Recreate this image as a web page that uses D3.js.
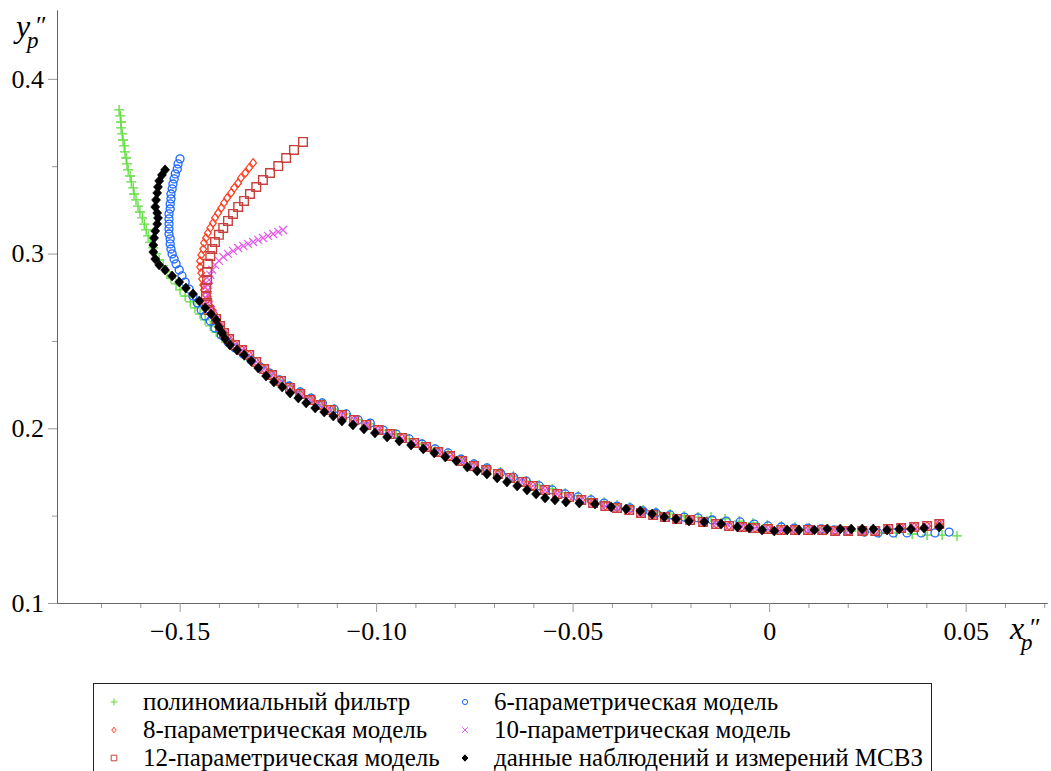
<!DOCTYPE html>
<html><head><meta charset="utf-8">
<script src="https://cdn.jsdelivr.net/npm/d3@7"></script>
<style>body{margin:0;background:#fff} svg{display:block}</style>
</head><body>
<svg id="c" width="1051" height="771"></svg>
<script>
// ---------- data (x″p, y″p) ----------
const polyFilter = [[-0.1654,0.3822],[-0.1651,0.3788],[-0.1649,0.3753],[-0.1649,0.3719],[-0.1646,0.3685],[-0.1644,0.3650],[-0.1641,0.3616],[-0.1639,0.3582],[-0.1636,0.3547],[-0.1634,0.3513],[-0.1631,0.3479],[-0.1626,0.3444],[-0.1623,0.3410],[-0.1618,0.3376],[-0.1616,0.3341],[-0.1611,0.3307],[-0.1606,0.3272],[-0.1601,0.3238],[-0.1595,0.3204],[-0.1590,0.3169],[-0.1585,0.3135],[-0.1580,0.3101],[-0.1575,0.3066],[-0.1567,0.3032],[-0.1560,0.2998],[-0.1552,0.2963],[-0.1542,0.2929],[-0.1532,0.2895],[-0.1522,0.2860],[-0.1509,0.2826],[-0.1499,0.2792],[-0.1486,0.2757],[-0.1473,0.2723],[-0.1461,0.2689],[-0.1448,0.2654],[-0.1435,0.2620],[-0.1422,0.2586],[-0.1407,0.2551],[-0.1392,0.2517],[-0.1374,0.2483],[-0.1356,0.2448],[-0.1336,0.2414],[-0.1316,0.2380],[-0.1293,0.2345],[-0.1270,0.2311],[-0.1244,0.2277],[-0.1219,0.2242],[-0.1193,0.2208],[-0.1165,0.2173],[-0.1137,0.2145],[-0.1107,0.2110],[-0.1076,0.2082],[-0.1046,0.2048],[-0.1015,0.2025],[-0.0982,0.1990],[-0.0949,0.1967],[-0.0916,0.1939],[-0.0883,0.1910],[-0.0850,0.1882],[-0.0817,0.1859],[-0.0784,0.1824],[-0.0751,0.1796],[-0.0718,0.1773],[-0.0684,0.1750],[-0.0651,0.1727],[-0.0618,0.1698],[-0.0585,0.1675],[-0.0552,0.1653],[-0.0519,0.1630],[-0.0486,0.1613],[-0.0453,0.1595],[-0.0420,0.1578],[-0.0387,0.1561],[-0.0354,0.1550],[-0.0321,0.1532],[-0.0288,0.1521],[-0.0252,0.1509],[-0.0216,0.1498],[-0.0181,0.1492],[-0.0148,0.1492],[-0.0112,0.1481],[-0.0076,0.1469],[-0.0041,0.1458],[-0.0005,0.1446],[0.0031,0.1441],[0.0066,0.1435],[0.0102,0.1429],[0.0137,0.1424],[0.0173,0.1418],[0.0209,0.1412],[0.0244,0.1406],[0.0280,0.1401],[0.0323,0.1401],[0.0364,0.1395],[0.0402,0.1389],[0.0440,0.1389],[0.0478,0.1384]];

const model6 = [[-0.1499,0.3542],[-0.1504,0.3513],[-0.1506,0.3484],[-0.1511,0.3456],[-0.1514,0.3427],[-0.1517,0.3398],[-0.1519,0.3370],[-0.1522,0.3341],[-0.1522,0.3313],[-0.1524,0.3284],[-0.1524,0.3255],[-0.1527,0.3227],[-0.1527,0.3198],[-0.1527,0.3169],[-0.1527,0.3141],[-0.1527,0.3112],[-0.1524,0.3084],[-0.1524,0.3055],[-0.1522,0.3026],[-0.1519,0.2998],[-0.1514,0.2969],[-0.1509,0.2941],[-0.1501,0.2906],[-0.1494,0.2872],[-0.1486,0.2837],[-0.1476,0.2797],[-0.1466,0.2757],[-0.1455,0.2717],[-0.1445,0.2677],[-0.1435,0.2643],[-0.1422,0.2614],[-0.1410,0.2574],[-0.1394,0.2534],[-0.1377,0.2494],[-0.1359,0.2460],[-0.1338,0.2425],[-0.1318,0.2391],[-0.1295,0.2351],[-0.1272,0.2317],[-0.1247,0.2277],[-0.1221,0.2242],[-0.1193,0.2208],[-0.1165,0.2173],[-0.1137,0.2145],[-0.1107,0.2110],[-0.1076,0.2082],[-0.1046,0.2048],[-0.1015,0.2030],[-0.0982,0.1990],[-0.0949,0.1967],[-0.0916,0.1939],[-0.0883,0.1910],[-0.0850,0.1882],[-0.0817,0.1859],[-0.0784,0.1824],[-0.0751,0.1796],[-0.0718,0.1773],[-0.0684,0.1744],[-0.0651,0.1721],[-0.0618,0.1698],[-0.0585,0.1670],[-0.0552,0.1647],[-0.0519,0.1624],[-0.0486,0.1607],[-0.0453,0.1590],[-0.0420,0.1572],[-0.0387,0.1555],[-0.0354,0.1544],[-0.0321,0.1527],[-0.0288,0.1515],[-0.0252,0.1504],[-0.0216,0.1492],[-0.0181,0.1487],[-0.0145,0.1475],[-0.0109,0.1469],[-0.0074,0.1464],[-0.0038,0.1452],[-0.0003,0.1441],[0.0031,0.1435],[0.0064,0.1429],[0.0099,0.1429],[0.0132,0.1424],[0.0165,0.1418],[0.0201,0.1412],[0.0242,0.1406],[0.0277,0.1401],[0.0316,0.1401],[0.0351,0.1401],[0.0387,0.1401],[0.0422,0.1401],[0.0458,0.1406]];

const model8Branch = [[-0.1313,0.3519],[-0.1323,0.3490],[-0.1333,0.3461],[-0.1344,0.3433],[-0.1351,0.3404],[-0.1361,0.3376],[-0.1369,0.3347],[-0.1379,0.3318],[-0.1387,0.3290],[-0.1394,0.3261],[-0.1402,0.3232],[-0.1410,0.3204],[-0.1415,0.3175],[-0.1422,0.3147],[-0.1428,0.3118],[-0.1433,0.3089],[-0.1438,0.3061],[-0.1440,0.3026],[-0.1445,0.2992],[-0.1448,0.2958],[-0.1448,0.2923],[-0.1445,0.2889],[-0.1443,0.2855],[-0.1440,0.2820],[-0.1438,0.2792],[-0.1433,0.2763],[-0.1430,0.2735],[-0.1425,0.2706],[-0.1417,0.2677],[-0.1412,0.2654]];

const model10Branch = [[-0.1237,0.3135],[-0.1249,0.3124],[-0.1262,0.3112],[-0.1275,0.3101],[-0.1288,0.3089],[-0.1300,0.3078],[-0.1313,0.3066],[-0.1326,0.3055],[-0.1338,0.3044],[-0.1351,0.3032],[-0.1364,0.3015],[-0.1377,0.2998],[-0.1389,0.2981],[-0.1400,0.2958],[-0.1410,0.2935],[-0.1417,0.2906],[-0.1422,0.2878],[-0.1425,0.2849],[-0.1428,0.2820],[-0.1428,0.2792],[-0.1428,0.2763],[-0.1428,0.2735],[-0.1425,0.2706],[-0.1420,0.2677],[-0.1415,0.2654]];

const model12Branch = [[-0.1186,0.3639],[-0.1209,0.3593],[-0.1229,0.3547],[-0.1249,0.3501],[-0.1270,0.3461],[-0.1288,0.3421],[-0.1305,0.3381],[-0.1321,0.3341],[-0.1336,0.3301],[-0.1351,0.3267],[-0.1364,0.3227],[-0.1377,0.3187],[-0.1389,0.3147],[-0.1400,0.3107],[-0.1410,0.3066],[-0.1417,0.3026],[-0.1422,0.2986],[-0.1428,0.2941],[-0.1430,0.2895],[-0.1430,0.2849],[-0.1433,0.2803],[-0.1433,0.2757],[-0.1430,0.2717],[-0.1425,0.2677]];

// common lower part of the 8-, 10- and 12-parameter model trajectories
const modelTail = [[-0.1407,0.2626],[-0.1397,0.2586],[-0.1387,0.2546],[-0.1374,0.2511],[-0.1359,0.2477],[-0.1341,0.2448],[-0.1323,0.2420],[-0.1305,0.2380],[-0.1285,0.2339],[-0.1265,0.2305],[-0.1242,0.2271],[-0.1219,0.2231],[-0.1193,0.2196],[-0.1168,0.2162],[-0.1142,0.2133],[-0.1115,0.2105],[-0.1087,0.2076],[-0.1056,0.2048],[-0.1025,0.2019],[-0.0995,0.1990],[-0.0964,0.1967],[-0.0934,0.1944],[-0.0903,0.1916],[-0.0873,0.1893],[-0.0842,0.1864],[-0.0812,0.1841],[-0.0781,0.1813],[-0.0751,0.1784],[-0.0720,0.1761],[-0.0690,0.1738],[-0.0659,0.1716],[-0.0628,0.1693],[-0.0601,0.1670],[-0.0570,0.1647],[-0.0539,0.1624],[-0.0509,0.1607],[-0.0478,0.1590],[-0.0448,0.1572],[-0.0417,0.1555],[-0.0387,0.1544],[-0.0356,0.1532],[-0.0326,0.1515],[-0.0295,0.1504],[-0.0265,0.1492],[-0.0234,0.1481],[-0.0201,0.1475],[-0.0168,0.1464],[-0.0135,0.1452],[-0.0102,0.1441],[-0.0069,0.1435],[-0.0036,0.1429],[-0.0003,0.1424],[0.0031,0.1418],[0.0066,0.1418],[0.0099,0.1418],[0.0135,0.1418],[0.0168,0.1412],[0.0201,0.1412],[0.0237,0.1412],[0.0270,0.1412],[0.0303,0.1424],[0.0336,0.1429],[0.0369,0.1435],[0.0402,0.1441],[0.0433,0.1452]];

const observed = [[-0.1537,0.3479],[-0.1545,0.3450],[-0.1552,0.3416],[-0.1555,0.3381],[-0.1557,0.3347],[-0.1560,0.3307],[-0.1562,0.3267],[-0.1557,0.3232],[-0.1555,0.3204],[-0.1557,0.3169],[-0.1562,0.3129],[-0.1565,0.3089],[-0.1567,0.3049],[-0.1567,0.3009],[-0.1562,0.2969],[-0.1552,0.2935],[-0.1537,0.2906],[-0.1519,0.2872],[-0.1501,0.2837],[-0.1484,0.2803],[-0.1466,0.2769],[-0.1450,0.2729],[-0.1435,0.2689],[-0.1420,0.2654],[-0.1407,0.2620],[-0.1400,0.2580],[-0.1392,0.2546],[-0.1384,0.2511],[-0.1372,0.2477],[-0.1354,0.2448],[-0.1336,0.2420],[-0.1318,0.2385],[-0.1300,0.2345],[-0.1280,0.2299],[-0.1260,0.2265],[-0.1239,0.2236],[-0.1219,0.2202],[-0.1198,0.2173],[-0.1178,0.2145],[-0.1155,0.2116],[-0.1132,0.2093],[-0.1109,0.2070],[-0.1087,0.2042],[-0.1059,0.2019],[-0.1031,0.1996],[-0.1003,0.1973],[-0.0972,0.1950],[-0.0941,0.1927],[-0.0911,0.1904],[-0.0880,0.1882],[-0.0852,0.1859],[-0.0824,0.1836],[-0.0796,0.1813],[-0.0768,0.1778],[-0.0743,0.1756],[-0.0718,0.1738],[-0.0692,0.1716],[-0.0667,0.1693],[-0.0641,0.1670],[-0.0616,0.1647],[-0.0593,0.1624],[-0.0570,0.1601],[-0.0545,0.1590],[-0.0517,0.1578],[-0.0483,0.1572],[-0.0443,0.1567],[-0.0402,0.1550],[-0.0364,0.1538],[-0.0328,0.1527],[-0.0298,0.1509],[-0.0267,0.1492],[-0.0237,0.1481],[-0.0204,0.1469],[-0.0165,0.1464],[-0.0122,0.1452],[-0.0081,0.1435],[-0.0051,0.1429],[-0.0018,0.1418],[0.0013,0.1412],[0.0046,0.1418],[0.0076,0.1418],[0.0115,0.1418],[0.0148,0.1424],[0.0181,0.1424],[0.0209,0.1424],[0.0237,0.1424],[0.0265,0.1424],[0.0300,0.1418],[0.0331,0.1424],[0.0361,0.1424],[0.0394,0.1429],[0.0433,0.1435]];

const xMajorTicks = [-0.15,-0.10,-0.05,0,0.05];
const xTickLabels = ["−0.15","−0.10","−0.05","0","0.05"];
const xMinorTicks = [-0.17,-0.16,-0.14,-0.13,-0.12,-0.11,-0.09,-0.08,-0.07,-0.06,-0.04,-0.03,-0.02,-0.01,0.01,0.02,0.03,0.04,0.06,0.07];
const yMajorTicks = [0.1,0.2,0.3,0.4];
const yTickLabels = ["0.1","0.2","0.3","0.4"];
const yMinorTicks = [0.15,0.25,0.35];
const legendLabels = ["полиномиальный фильтр","6-параметрическая модель","8-параметрическая модель","10-параметрическая модель","12-параметрическая модель","данные наблюдений и измерений МСВЗ"];

// ---------- drawing ----------
const FONT = "'Liberation Serif', 'Times New Roman', serif";
const svg = d3.select("#c");
const x = d3.scaleLinear().domain([-0.1812, 0.0707]).range([57, 1047]);
const y = d3.scaleLinear().domain([0.1, 0.4394]).range([603, 10]);

const shapes = {
  plus:   s => `M${-s},0H${s}M0,${-s}V${s}`,
  circle: s => `M${s},0A${s},${s} 0 1,1 ${-s},0A${s},${s} 0 1,1 ${s},0Z`,
  diamond:s => `M0,${-s}L${s*0.8},0L0,${s}L${-s*0.8},0Z`,
  square: s => `M${-s},${-s}H${s}V${s}H${-s}Z`,
  cross:  s => `M${-s},${-s}L${s},${s}M${-s},${s}L${s},${-s}`,
  fdiam:  s => `M0,${-s}L${s*0.9},0L0,${s}L${-s*0.9},0Z`
};

const series = [
  {data: polyFilter, shape:"plus", size:5, color:"#5cdc3a", fill:"none", sw:1.3},
  {data: model6, shape:"circle", size:4, color:"#1a66ff", fill:"none", sw:1.3},
  {data: model8Branch.concat(modelTail), shape:"diamond", size:4.2, color:"#ff3d1f", fill:"none", sw:1.2},
  {data: model10Branch.concat(modelTail), shape:"cross", size:4, color:"#e25ce8", fill:"none", sw:1.2},
  {data: model12Branch.concat(modelTail), shape:"square", size:4.3, color:"#c8403e", fill:"none", sw:1.4},
  {data: observed, shape:"fdiam", size:5, color:"#000", fill:"#000", sw:0.6}
];

function styleText(sel, size){
  sel.attr("font-size",size).attr("font-family",null).style("font-family",FONT).attr("fill","#000");
}

// axes
const y0 = y(0.1);
function fixAxis(g){ g.attr("font-family",null).attr("font-size",null); }
const gx = svg.append("g").attr("transform",`translate(0,${y0})`);
gx.call(d3.axisBottom(x).tickValues(xMinorTicks).tickSize(5).tickSizeOuter(0).tickFormat(""));
gx.selectAll(".tick line").attr("stroke","#999");
gx.select(".domain").attr("stroke","#666");
const gx2 = svg.append("g").attr("transform",`translate(0,${y0})`);
gx2.call(d3.axisBottom(x).tickValues(xMajorTicks).tickSize(9).tickSizeOuter(0).tickPadding(10)
   .tickFormat((d,i)=>xTickLabels[i]));
fixAxis(gx2);
gx2.selectAll(".tick line").attr("stroke","#999");
gx2.select(".domain").attr("stroke","#666");
styleText(gx2.selectAll(".tick text"), 26);

const gy = svg.append("g").attr("transform","translate(57,0)");
gy.call(d3.axisLeft(y).tickValues(yMinorTicks).tickSize(5).tickSizeOuter(0).tickFormat(""));
gy.selectAll(".tick line").attr("stroke","#999");
gy.select(".domain").attr("stroke","#666");
const gy2 = svg.append("g").attr("transform","translate(57,0)");
gy2.call(d3.axisLeft(y).tickValues(yMajorTicks).tickSize(9).tickSizeOuter(0).tickPadding(4)
   .tickFormat((d,i)=>yTickLabels[i]));
fixAxis(gy2);
gy2.selectAll(".tick line").attr("stroke","#999");
gy2.select(".domain").attr("stroke","#666");
styleText(gy2.selectAll(".tick text"), 26);

// axis titles (one text element each, with sub/superscript tspans)
function axisTitle(letter, lx, ly){
  const t = svg.append("text").attr("x",lx).attr("y",ly).style("font-family",FONT).attr("fill","#000");
  t.append("tspan").attr("font-size",32).attr("font-style","italic").text(letter);
  t.append("tspan").attr("x",lx+20).attr("y",ly-3).attr("font-size",26).text("″");
  t.append("tspan").attr("x",lx+11).attr("y",ly+11).attr("font-size",23).attr("font-style","italic").text("p");
}
axisTitle("y", 16, 37);
axisTitle("x", 1010, 639);

// points
series.forEach(s=>{
  svg.append("g").selectAll("path").data(s.data).join("path")
    .attr("transform",d=>`translate(${x(d[0])},${y(d[1])})`)
    .attr("d",shapes[s.shape](s.size))
    .attr("fill",s.fill).attr("stroke",s.color).attr("stroke-width",s.sw);
});

// legend
const lg = svg.append("g");
lg.append("rect").attr("x",93.5).attr("y",683.5).attr("width",838).attr("height",100)
  .attr("fill","none").attr("stroke","#222").attr("stroke-width",1);
const legPos = [[114,702],[465,702],[114,730],[465,730],[114,758],[465,758]];
const legSizes = [3.5,2.6,2.8,2.8,2.8,3.2];
series.forEach((s,i)=>{
  const [lx,ly] = legPos[i];
  lg.append("path").attr("transform",`translate(${lx},${ly})`)
    .attr("d",shapes[s.shape](legSizes[i]))
    .attr("fill",s.fill).attr("stroke",s.color).attr("stroke-width",1);
  styleText(lg.append("text").attr("x",lx+29).attr("y",ly+8).text(legendLabels[i]), 25);
});
</script>
</body></html>
